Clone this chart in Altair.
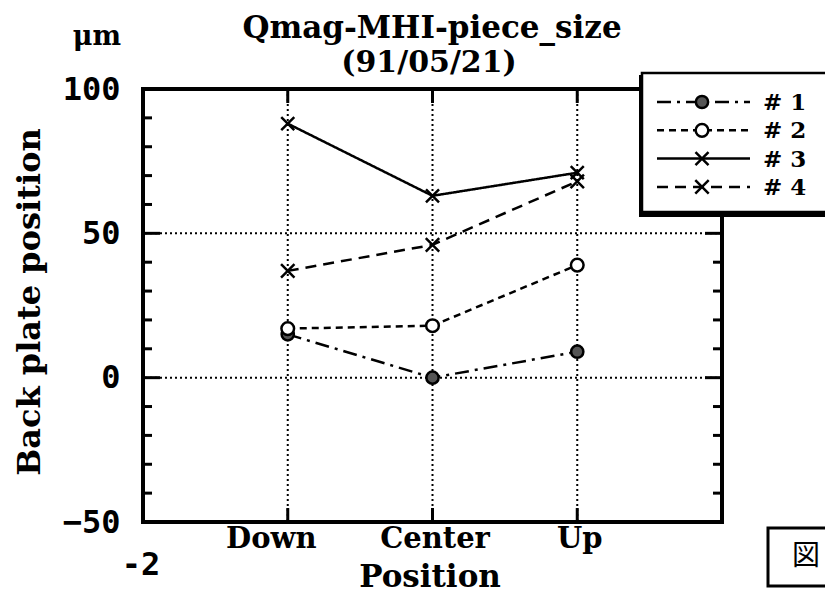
import altair as alt
import pandas as pd

# ---- data -------------------------------------------------------------
positions = ["Down", "Center", "Up"]
series = ["# 1", "# 2", "# 3", "# 4"]
s1 = [15, 0, 9]
s2 = [17, 18, 39]
s3 = [88, 63, 71]
s4 = [37, 46, 68]
y_label_values = [-50, 0, 50, 100]
y_minor_ticks = [-40, -30, -20, -10, 10, 20, 30, 40, 60, 70, 80, 90]
y_major_ticks = [0, 50]
y_grid = [0, 50]

# plot-area size in pixels
W, H = 579, 433

rows = []
for name, vals in zip(series, [s1, s2, s3, s4]):
    for i, (p, v) in enumerate(zip(positions, vals)):
        rows.append({"series": name, "pos": i + 1, "cat": p, "value": v})
df = pd.DataFrame(rows)
pos_df = pd.DataFrame({"pos": list(range(1, len(positions) + 1))})

SERIF = "DejaVu Serif"
MONO = "DejaVu Sans Mono"

# per-series line / marker styles
X_PATH = "M-1,-1L1,1M-1,1L1,-1"
dash_scale = alt.Scale(domain=series, range=[[14, 6, 3, 6], [7, 5], [1, 0], [11, 7]])
shape_scale = alt.Scale(domain=series, range=["circle", "circle", X_PATH, X_PATH])
size_scale = alt.Scale(domain=series, range=[150, 180, 110, 300])
fill_scale = alt.Scale(domain=series, range=["#555555", "white", "white", "white"])

xs = alt.Scale(domain=[0, len(positions) + 1])
ys = alt.Scale(domain=[-50, 100])

label_expr = " : ".join(
    f"datum.value == {i + 1} ? '{p}'" for i, p in enumerate(positions[:-1])
) + f" : '{positions[-1]}'"

# the same axis definitions are shared by every layer so they merge cleanly
x_axis = alt.Axis(values=list(range(1, len(positions) + 1)), labelExpr=label_expr,
                  title=None, domain=False, ticks=False, grid=False,
                  labelFont=SERIF, labelFontSize=29, labelFontWeight="bold",
                  labelColor="black", labelPadding=2, labelBaseline="top",
                  labelOffset={"condition": {"test": "datum.value == 1", "value": -17},
                               "value": 2})
y_axis = alt.Axis(values=y_label_values, title=None, domain=False, ticks=False,
                  grid=False, labelFont=MONO, labelFontSize=32,
                  labelFontWeight="bold", labelColor="black", labelPadding=23)


def X(field):
    return alt.X(field, scale=xs, axis=x_axis, title=None)


def Y(field):
    return alt.Y(field, scale=ys, axis=y_axis, title=None)


# ---- grid -------------------------------------------------------------
hgrid = alt.Chart(pd.DataFrame({"v": y_grid})).mark_rule(
    color="black", strokeWidth=2, strokeDash=[2, 3]
).encode(y=Y("v:Q"))
vgrid = alt.Chart(pos_df).mark_rule(
    color="black", strokeWidth=2, strokeDash=[2, 3]
).encode(x=X("pos:Q"))


# ---- inward ticks -----------------------------------------------------
def yticks(values, x0, x1):
    return alt.Chart(pd.DataFrame({"v": values})).mark_rule(
        color="black", strokeWidth=3
    ).encode(y=Y("v:Q"), x=alt.value(x0), x2=alt.value(x1))


def xticks(y0, y1):
    return alt.Chart(pos_df).mark_rule(color="black", strokeWidth=3).encode(
        x=X("pos:Q"), y=alt.value(y0), y2=alt.value(y1)
    )


ticks = [
    yticks(y_minor_ticks, 0, 9), yticks(y_major_ticks, 0, 17),
    yticks(y_minor_ticks, W, W - 9), yticks(y_major_ticks, W, W - 17),
    xticks(0, 14), xticks(H, H - 14),
]

one = pd.DataFrame({"k": [0]})
frame = alt.Chart(one).mark_rect(fillOpacity=0, stroke="black", strokeWidth=4).encode(
    x=alt.value(0), x2=alt.value(W), y=alt.value(0), y2=alt.value(H)
)

# ---- series -----------------------------------------------------------
lines = alt.Chart(df).mark_line(color="black", strokeWidth=2.5).encode(
    x=X("pos:Q"), y=Y("value:Q"),
    detail="series:N",
    strokeDash=alt.StrokeDash("series:N", scale=dash_scale, legend=None),
)
points = alt.Chart(df).mark_point(color="black", strokeWidth=2.5, opacity=1).encode(
    x=X("pos:Q"), y=Y("value:Q"),
    shape=alt.Shape("series:N", scale=shape_scale, legend=None),
    size=alt.Size("series:N", scale=size_scale, legend=None),
    fill=alt.Fill("series:N", scale=fill_scale, legend=None),
)

# ---- legend box -------------------------------------------------------
legend_layers = [
    alt.Chart(one).mark_rect(color="black").encode(
        x=alt.value(496), x2=alt.value(700), y=alt.value(-14), y2=alt.value(128)
    ),
    alt.Chart(one).mark_rect(fill="white", stroke="black", strokeWidth=2.5).encode(
        x=alt.value(499), x2=alt.value(700), y=alt.value(-16), y2=alt.value(123)
    ),
]
for i, name in enumerate(series):
    row_y = 13 + i * 28.3
    row = alt.Chart(pd.DataFrame({"series": [name]}))
    legend_layers += [
        row.mark_rule(color="black", strokeWidth=2.5).encode(
            x=alt.value(514), x2=alt.value(607), y=alt.value(row_y),
            strokeDash=alt.StrokeDash("series:N", scale=dash_scale, legend=None),
        ),
        row.mark_point(color="black", strokeWidth=2.5, opacity=1).encode(
            x=alt.value(559), y=alt.value(row_y),
            shape=alt.Shape("series:N", scale=shape_scale, legend=None),
            size=alt.Size("series:N", scale=size_scale, legend=None),
            fill=alt.Fill("series:N", scale=fill_scale, legend=None),
        ),
        row.mark_text(font=SERIF, fontSize=23, fontWeight="bold", align="left",
                      baseline="middle", color="black").encode(
            text="series:N", x=alt.value(620), y=alt.value(row_y + 1)
        ),
    ]


# ---- titles and annotations --------------------------------------------
def label(text, x, y, font=SERIF, size=28, angle=0, baseline="alphabetic",
          align="center", weight="bold"):
    return alt.Chart(pd.DataFrame({"t": [text]})).mark_text(
        font=font, fontSize=size, fontWeight=weight, angle=angle,
        baseline=baseline, align=align, color="black"
    ).encode(text="t:N", x=alt.value(x), y=alt.value(y))


texts = [
    label("Qmag-MHI-piece_size", 289, -51, size=31),
    label("(91/05/21)", 286, -17, size=30),
    label("\u03bcm", -46, -44, size=27),
    label("Back plate position", -113, 213, size=32, angle=270, baseline="middle"),
    label("Position", 287, 498, size=31),
    label("-2", -2, 486, font=MONO, size=32),
]

fig_box = [
    alt.Chart(one).mark_rect(fill="white", stroke="black", strokeWidth=3).encode(
        x=alt.value(625), x2=alt.value(700), y=alt.value(439), y2=alt.value(497)
    ),
    label("\u56f3", 663, 468, font="Noto Sans CJK JP", size=28, baseline="middle",
          weight="normal"),
]

chart = alt.layer(
    hgrid, vgrid, *ticks, lines, points, frame, *legend_layers, *texts, *fig_box
).properties(
    width=W, height=H,
    autosize=alt.AutoSizeParams(type="none"),
    padding={"left": 143, "top": 89, "right": 103, "bottom": 90},
    background="white",
).configure_view(strokeWidth=0)

chart.save("out.html", embed_options={"renderer": "svg", "actions": False})
